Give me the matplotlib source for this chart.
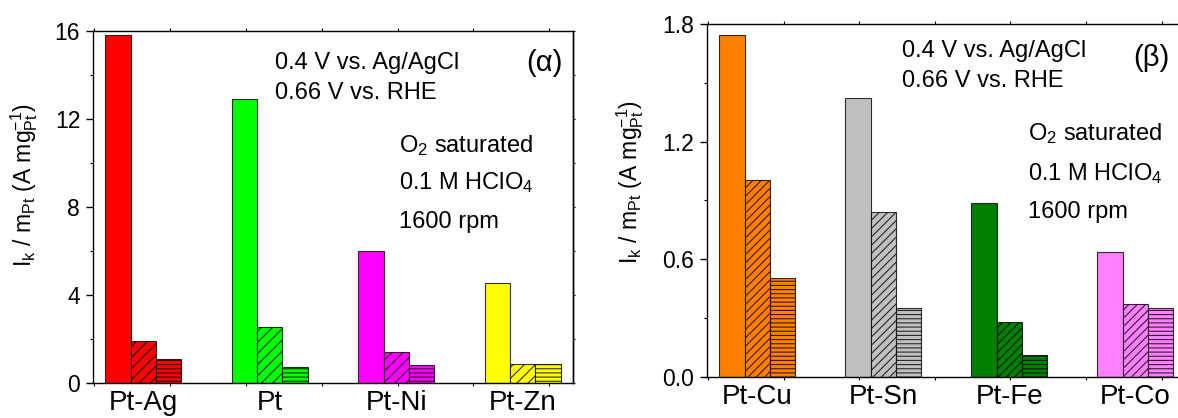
import matplotlib
matplotlib.use('Agg')
import matplotlib.pyplot as plt
from matplotlib.ticker import FixedLocator, MultipleLocator

plt.rcParams['font.family'] = ['Liberation Sans', 'DejaVu Sans']
plt.rcParams['mathtext.fontset'] = 'custom'
plt.rcParams['mathtext.rm'] = 'Liberation Sans'
plt.rcParams['mathtext.it'] = 'Liberation Sans:italic'
plt.rcParams['mathtext.bf'] = 'Liberation Sans:bold'
plt.rcParams['hatch.linewidth'] = 0.8

# ---------------- data ----------------
cats_a = ['Pt-Ag', 'Pt', 'Pt-Ni', 'Pt-Zn']
solid_a = [15.80, 12.88, 5.99, 4.55]
diag_a = [1.89, 2.55, 1.39, 0.83]
horiz_a = [1.07, 0.71, 0.81, 0.83]
colors_a = ['#FF0000', '#00FF00', '#FF00FF', '#FFFF00']
yticks_a = [0, 4, 8, 12, 16]

cats_b = ['Pt-Cu', 'Pt-Sn', 'Pt-Fe', 'Pt-Co']
solid_b = [1.746, 1.421, 0.887, 0.636]
diag_b = [1.002, 0.842, 0.278, 0.371]
horiz_b = [0.503, 0.351, 0.113, 0.349]
colors_b = ['#FF8000', '#C0C0C0', '#008000', '#FF80FF']
yticks_b = [0.0, 0.6, 1.2, 1.8]

ylabel = r'I$_\mathrm{k}$ / m$_\mathrm{Pt}$ (A mg$_\mathrm{Pt}^{-1}$)'

W, H = 1178, 418
fig = plt.figure(figsize=(W / 100, H / 100), dpi=100)

axA = fig.add_axes([92.7 / W, (H - 382.7) / H, 480.6 / W, 352.0 / H])
axB = fig.add_axes([706.7 / W, (H - 376.7) / H, 478.8 / W, 352.7 / H])

edge = (0, 0, 0, 0.8)
bw = 0.2


def draw(ax, cats, solid, diag, horiz, colors, yticks, ymax, yminor, dhatch, hhatch, ylab_pos):
    x = list(range(len(cats)))
    ax.bar([v - bw for v in x], solid, width=bw, color=colors, edgecolor=edge, linewidth=0.8)
    ax.bar(x, diag, width=bw, color=colors, edgecolor=edge, linewidth=0.8, hatch=dhatch)
    ax.bar([v + bw for v in x], horiz, width=bw, color=colors, edgecolor=edge, linewidth=0.8, hatch=hhatch)
    ax.set_xlim(-0.4, 3.4)
    ax.set_ylim(0, ymax)
    ax.set_xticks(x)
    ax.set_xticklabels(cats, fontsize=20)
    ax.xaxis.set_minor_locator(FixedLocator([-0.39 + 0.6 * k for k in range(7)]))
    ax.tick_params(axis='x', which='major', length=0, pad=5)
    ax.tick_params(axis='x', which='minor', length=2, width=0.8, direction='out', top=True, bottom=True)
    ax.set_yticks(yticks)
    ax.yaxis.set_minor_locator(MultipleLocator(yminor))
    ax.tick_params(axis='y', which='major', length=5, width=1, direction='out', labelsize=16.5, pad=4)
    ax.tick_params(axis='y', which='minor', length=2.5, width=0.8, direction='out')
    for sp in ax.spines.values():
        sp.set_linewidth(1.0)
    sec = ax.secondary_yaxis('right')
    sec.set_yticks(yticks)
    sec.yaxis.set_minor_locator(MultipleLocator(yminor))
    sec.tick_params(which='both', length=1.5, width=0.8, labelright=False)
    sec.spines['right'].set_linewidth(1.0)
    ax.set_ylabel(ylabel, fontsize=16.5, va='center')
    ax.yaxis.set_label_coords(*ylab_pos)


draw(axA, cats_a, solid_a, diag_a, horiz_a, colors_a, yticks_a, 16, 2, '///', '----', (-0.143, 0.562))
axA.set_yticklabels([str(v) for v in yticks_a])
draw(axB, cats_b, solid_b, diag_b, horiz_b, colors_b, yticks_b, 1.8, 0.3, '////', '----', (-0.160, 0.553))
axB.set_yticklabels(['%.1f' % v for v in yticks_b])


def ftext(x, y, s, size=17):
    fig.text(x / W, 1 - y / H, s, fontsize=size, va='baseline', ha='left')


# panel alpha annotations
ftext(275, 69, '0.4 V vs. Ag/AgCl')
ftext(275, 99, '0.66 V vs. RHE')
ftext(399, 152, r'O$_2$ saturated')
ftext(399, 189, r'0.1 M HClO$_4$')
ftext(399, 228, '1600 rpm')
ftext(526, 71.3, '(α)', 21)

# panel beta annotations
ftext(902, 57.3, '0.4 V vs. Ag/AgCl')
ftext(902, 87.3, '0.66 V vs. RHE')
ftext(1027.5, 140, r'O$_2$ saturated')
ftext(1027.5, 180, r'0.1 M HClO$_4$')
ftext(1027.5, 218.3, '1600 rpm')
ftext(1133, 65.7, '(β)', 21)

fig.savefig('out.png', dpi=100)
